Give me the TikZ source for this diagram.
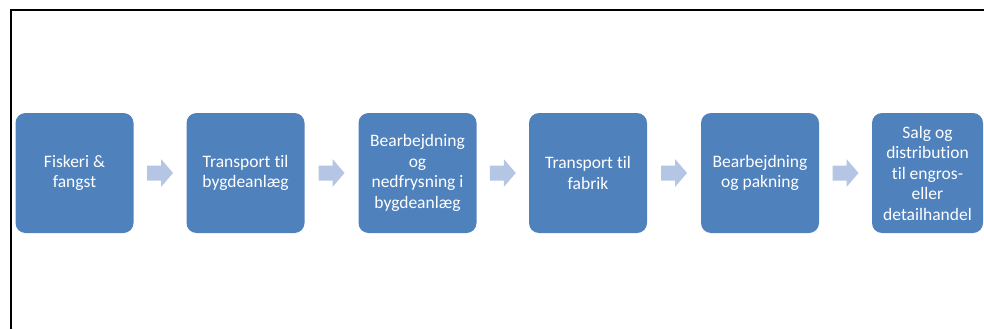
\documentclass[tikz,border=0pt]{standalone}
\usepackage{fontspec}
\setmainfont[Ligatures=NoCommon]{Carlito}
\usetikzlibrary{calc}
\definecolor{boxblue}{HTML}{4F81BD}
\definecolor{arrowblue}{HTML}{B4C6E3}
\begin{document}
\begin{tikzpicture}[x=1pt,y=-1pt,
  stepbox/.style={fill=boxblue, rounded corners=10pt, minimum width=118pt, minimum height=120pt,
    inner sep=0pt, text=white, align=center, font=\fontsize{17.5}{20.5}\selectfont},
  blockarrow/.pic={\fill[arrowblue] (-13,-7.5) -- (1,-7.5) -- (1,-14) -- (13,0) -- (1,14) -- (1,7.5) -- (-13,7.5) -- cycle;}]
\useasboundingbox (0,0) rectangle (984,329);
\draw[line width=2pt] (11,329) -- (11,10.5) -- (984,10.5);
\node[stepbox] (b1) at (74.5,173) {Fiskeri \&\\fangst};
\node[stepbox] (b2) at (245.5,173) {Transport til\\bygdeanlæg};
\node[stepbox] (b3) at (417.5,173) {Bearbejdning\\og\\nedfrysning i\\bygdeanlæg};
\node[stepbox] (b4) at (588,173) {Transport til\\fabrik};
\node[stepbox] (b5) at (760,173) {Bearbejdning\\og pakning};
\node[stepbox, minimum width=111pt] (b6) at (927.5,173) {Salg og\\distribution\\til engros-\\eller\\detailhandel};
\foreach \a/\b in {b1/b2,b2/b3,b3/b4,b4/b5,b5/b6}{
  \path ($(\a.east)!0.5!(\b.west)$) pic {blockarrow};
}
\end{tikzpicture}
\end{document}
